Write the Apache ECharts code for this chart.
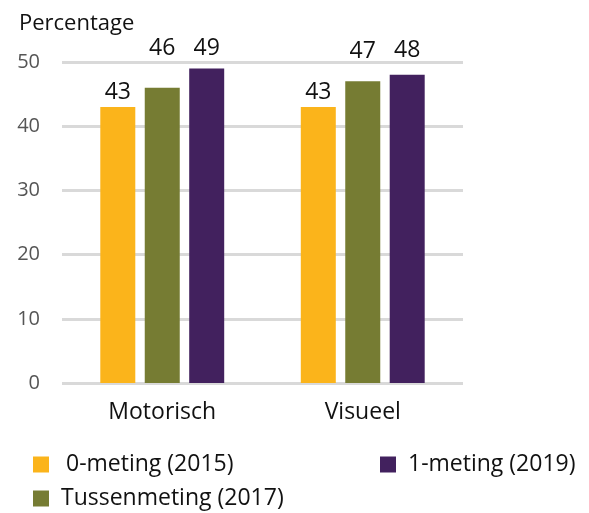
<!DOCTYPE html>
<html>
<head>
<meta charset="utf-8">
<script src="https://cdn.jsdelivr.net/npm/echarts@6/dist/echarts.min.js"></script>
<style>
  html, body { margin: 0; padding: 0; background: #fff; }
  #chart { width: 589px; height: 513px; }
</style>
</head>
<body>
<div id="chart"></div>
<script>
const categories = ['Motorisch', 'Visueel']
const seriesNames = ['0-meting (2015)', 'Tussenmeting (2017)', '1-meting (2019)']
const meting2015 = [43, 43]
const meting2017 = [46, 47]
const meting2019 = [49, 48]
const colors = ['#FBB41B', '#767C33', '#42215E']

// labels of the taller bars sit a bit higher, as in the original
const labelDistance = [[3, 3], [28, 18], [8, 13]]

const font = 'Open Sans, Noto Sans, sans-serif'

const chart = echarts.init(document.getElementById('chart'))

function bar(name, data, color, dist) {
  return {
    name,
    type: 'bar',
    data: data.map((v, i) => ({ value: v, label: { distance: dist[i] } })),
    barWidth: 35,
    barGap: '27%',
    itemStyle: { color },
    label: {
      show: true,
      position: 'top',
      color: '#111',
      fontSize: 23,
      fontFamily: font,
    },
  }
}

function legend(name, left, top, gap) {
  return {
    data: [name],
    left,
    top,
    icon: 'rect',
    itemWidth: 16,
    itemHeight: 16,
    padding: 0,
    textStyle: { color: '#111', fontSize: 23, fontFamily: font, padding: [0, 0, 0, gap] },
    selectedMode: false,
  }
}

chart.setOption({
  animation: false,
  textStyle: { fontFamily: font },
  grid: { left: 62, right: 126, top: 62, bottom: 130 },
  legend: [
    legend(seriesNames[0], 33, 453, 12),
    legend(seriesNames[2], 380, 453, 7),
    legend(seriesNames[1], 33, 487, 7),
  ],
  xAxis: {
    type: 'category',
    data: categories,
    axisLine: { show: false },
    axisTick: { show: false },
    axisLabel: { color: '#111', fontSize: 23, margin: 18, fontFamily: font },
  },
  yAxis: {
    type: 'value',
    min: 0,
    max: 50,
    interval: 10,
    name: 'Percentage',
    nameLocation: 'end',
    nameGap: 27,
    nameTextStyle: { color: '#111', fontSize: 22, align: 'left', padding: [0, 0, 0, -43], fontFamily: font },
    axisLine: { show: false },
    axisTick: { show: false },
    axisLabel: { color: '#555', fontSize: 20, margin: 22, fontFamily: font },
    splitLine: { lineStyle: { color: '#d9d9d9', width: 3 } },
  },
  series: [
    bar(seriesNames[0], meting2015, colors[0], labelDistance[0]),
    bar(seriesNames[1], meting2017, colors[1], labelDistance[1]),
    bar(seriesNames[2], meting2019, colors[2], labelDistance[2]),
  ],
})
</script>
</body>
</html>
